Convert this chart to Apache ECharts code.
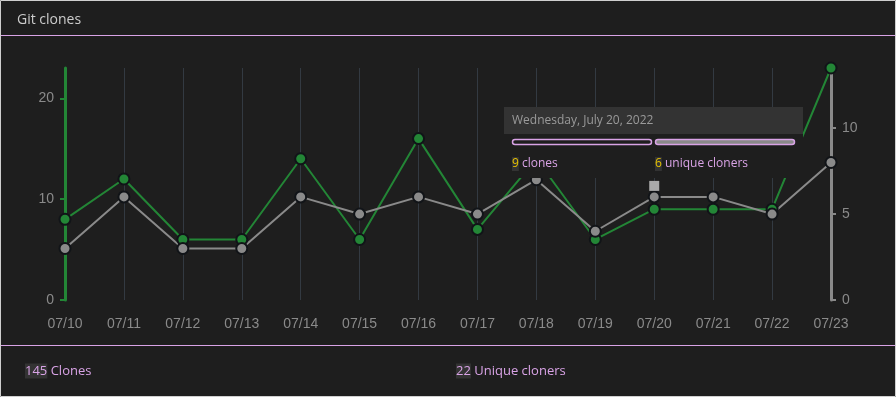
<!DOCTYPE html>
<html>
<head>
<meta charset="utf-8">
<script src="https://cdn.jsdelivr.net/npm/echarts@6/dist/echarts.min.js"></script>
<style>
  html, body { margin: 0; padding: 0; background: #1e1e1e; }
  #main { width: 896px; height: 397px; }
</style>
</head>
<body>
<div id="main"></div>
<script>
// dates shown on the x axis
const days = ["07/10","07/11","07/12","07/13","07/14","07/15","07/16","07/17","07/18","07/19","07/20","07/21","07/22","07/23"];
// clones per day (left axis)
const clones = [8, 12, 6, 6, 14, 6, 16, 7, 14, 6, 9, 9, 9, 23];
// unique cloners per day (right axis)
const uniques = [3, 6, 3, 3, 6, 5, 6, 5, 7, 4, 6, 6, 5, 8];
const totalClones = 145;
const totalUniques = 22;
const hoverIndex = 10;
const hoverDate = "Wednesday, July 20, 2022";

const green = "#238636";
const gray = "#8a8a8a";
const plum = "#d9a3e6";
const font = "Liberation Sans";

var myChart = echarts.init(document.getElementById('main'));

myChart.setOption({
    backgroundColor: "#1e1e1e",
    animation: false,
    title: {
        text: "Git clones",
        left: 12,
        top: 8,
        textStyle: { color: "#cccccc", fontSize: 14, fontWeight: "normal", fontFamily: "Open Sans" }
    },
    grid: { left: 65, right: 65, top: 68, bottom: 97 },
    xAxis: {
        type: "category",
        data: days,
        boundaryGap: false,
        axisLine: { show: false },
        axisTick: { show: false },
        axisLabel: { color: gray, fontSize: 14, fontFamily: font, margin: 17 },
        splitLine: { show: true, lineStyle: { color: "#333a42", width: 1 } }
    },
    yAxis: [
        {
            type: "value",
            min: 0,
            max: 23,
            interval: 10,
            axisLine: { show: true, lineStyle: { color: green, width: 3 } },
            axisTick: { show: true, length: 5, lineStyle: { color: green, width: 2 } },
            axisLabel: { color: gray, fontSize: 14, fontFamily: font, margin: 11, showMaxLabel: false },
            splitLine: { show: false }
        },
        {
            type: "value",
            min: 0,
            max: 13.5,
            interval: 5,
            position: "right",
            axisLine: { show: true, lineStyle: { color: gray, width: 3 } },
            axisTick: { show: true, length: 5, lineStyle: { color: gray, width: 2 } },
            axisLabel: { color: gray, fontSize: 14, fontFamily: font, margin: 11, showMaxLabel: false },
            splitLine: { show: false }
        }
    ],
    series: [
        {
            name: "clones",
            type: "line",
            yAxisIndex: 0,
            data: clones,
            symbol: "circle",
            symbolSize: 11,
            lineStyle: { color: green, width: 2 },
            itemStyle: { color: green, borderColor: "#111418", borderWidth: 2 }
        },
        {
            name: "unique cloners",
            type: "line",
            yAxisIndex: 1,
            data: uniques,
            symbol: "circle",
            symbolSize: 11,
            lineStyle: { color: gray, width: 2 },
            itemStyle: { color: gray, borderColor: "#111418", borderWidth: 2 }
        }
    ]
});

// marker square above the hovered point
const p = myChart.convertToPixel({ xAxisIndex: 0, yAxisIndex: 1 }, [hoverIndex, uniques[hoverIndex]]);

myChart.setOption({
    graphic: [
        // outer border
        { type: "rect", shape: { x: 0.5, y: 0.5, width: 895, height: 396 }, style: { fill: null, stroke: "#cfcfcf", lineWidth: 1 }, z: 100 },
        // header / footer separators
        { type: "rect", shape: { x: 1, y: 35, width: 894, height: 1 }, style: { fill: plum }, z: 100 },
        { type: "rect", shape: { x: 1, y: 345, width: 894, height: 1 }, style: { fill: plum }, z: 100 },
        // hover square
        { type: "rect", shape: { x: p[0] - 5, y: p[1] - 16, width: 10, height: 10 }, style: { fill: "#aaaaaa" }, z: 50 },
        // tooltip box
        { type: "rect", shape: { x: 504, y: 107, width: 299, height: 71 }, style: { fill: "#1e1e1e" }, z: 60 },
        { type: "rect", shape: { x: 504, y: 107, width: 299, height: 27 }, style: { fill: "#333333" }, z: 61 },
        { type: "text", x: 512, y: 121, style: { text: hoverDate, fill: "#9a9a9a", fontSize: 12, fontFamily: "Open Sans", verticalAlign: "middle" }, z: 62 },
        { type: "rect", shape: { x: 512.5, y: 139.5, width: 139, height: 5, r: 3 }, style: { fill: "#1e1e1e", stroke: plum, lineWidth: 1.5 }, z: 62 },
        { type: "rect", shape: { x: 655.5, y: 139.5, width: 139, height: 5, r: 3 }, style: { fill: "#8a8a8a", stroke: plum, lineWidth: 1.5 }, z: 62 },
        {
            type: "text", x: 512, y: 164, z: 62,
            style: {
                text: "{n|" + clones[hoverIndex] + "} clones",
                fill: plum, fontSize: 12, fontFamily: "Open Sans", verticalAlign: "middle",
                rich: { n: { fill: "#e6c200", backgroundColor: "#333333", fontSize: 12, fontFamily: "Open Sans", padding: [1, 0, 1, 0] } }
            }
        },
        {
            type: "text", x: 655, y: 164, z: 62,
            style: {
                text: "{n|" + uniques[hoverIndex] + "} unique cloners",
                fill: plum, fontSize: 12, fontFamily: "Open Sans", verticalAlign: "middle",
                rich: { n: { fill: "#e6c200", backgroundColor: "#333333", fontSize: 12, fontFamily: "Open Sans", padding: [1, 0, 1, 0] } }
            }
        },
        // footer totals
        {
            type: "text", x: 25, y: 371, z: 62,
            style: {
                text: "{n|" + totalClones + "} Clones",
                fill: plum, fontSize: 13, fontFamily: "Open Sans", verticalAlign: "middle",
                rich: { n: { fill: plum, backgroundColor: "#333333", fontSize: 13, fontFamily: "Open Sans", padding: [1, 0, 1, 0] } }
            }
        },
        {
            type: "text", x: 456, y: 371, z: 62,
            style: {
                text: "{n|" + totalUniques + "} Unique cloners",
                fill: plum, fontSize: 13, fontFamily: "Open Sans", verticalAlign: "middle",
                rich: { n: { fill: plum, backgroundColor: "#333333", fontSize: 13, fontFamily: "Open Sans", padding: [1, 0, 1, 0] } }
            }
        }
    ]
});
</script>
</body>
</html>
